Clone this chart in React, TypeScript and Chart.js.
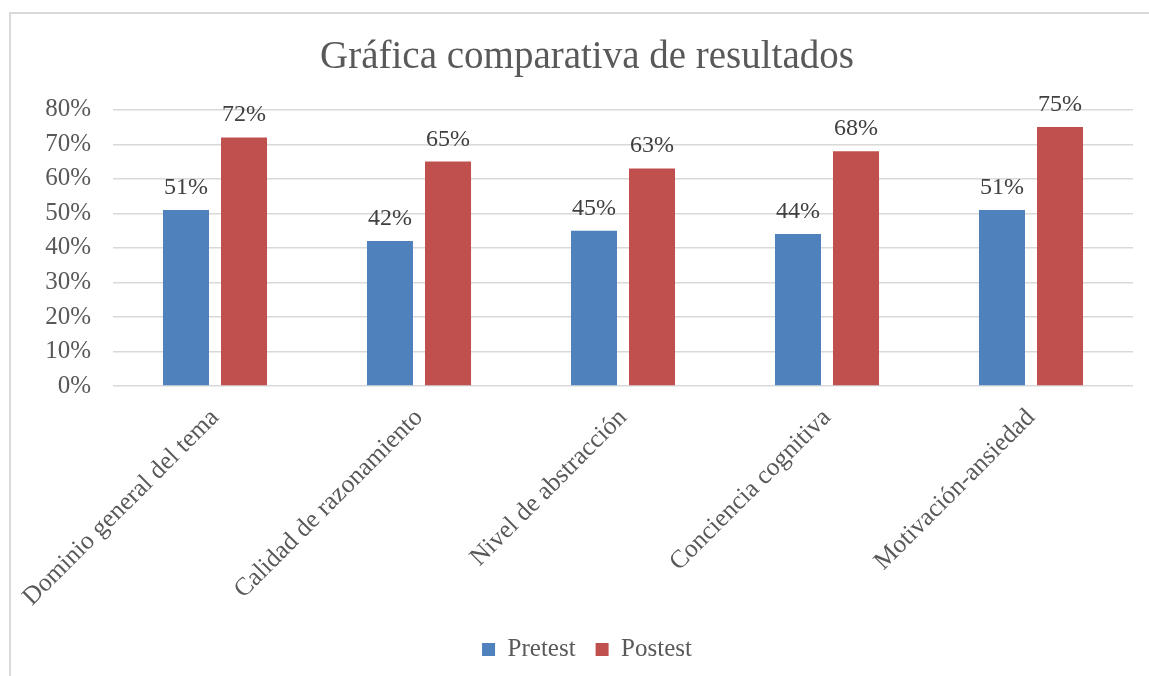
import { useEffect, useRef } from "react";
import { Chart, registerables } from "chart.js";

Chart.register(...registerables);

const categories = [
  "Dominio general del tema",
  "Calidad de razonamiento",
  "Nivel de abstracción",
  "Conciencia cognitiva",
  "Motivación-ansiedad",
];
const seriesNames = ["Pretest", "Postest"];
const pretest = [0.51, 0.42, 0.45, 0.44, 0.51];
const postest = [0.72, 0.65, 0.63, 0.68, 0.75];
const seriesColors = ["#4f81bd", "#c0504d"];
const chartTitle = "Gráfica comparativa de resultados";

const FONT = '"Liberation Serif", "Times New Roman", serif';
const TEXT = "#595959";

const dataLabels = {
  id: "dataLabels",
  afterDatasetsDraw(chart: any) {
    const ctx = chart.ctx;
    ctx.save();
    ctx.font = `24px ${FONT}`;
    ctx.fillStyle = "#404040";
    ctx.textAlign = "center";
    ctx.textBaseline = "alphabetic";
    chart.data.datasets.forEach((ds: any, i: number) => {
      chart.getDatasetMeta(i).data.forEach((bar: any, j: number) => {
        ctx.fillText(Math.round(ds.data[j] * 100) + "%", bar.x, bar.y - 16);
      });
    });
    ctx.restore();
  },
};

export default function App() {
  const ref = useRef<HTMLCanvasElement>(null);
  useEffect(() => {
    if (!ref.current) return;
    const chart = new Chart(ref.current, {
      type: "bar",
      data: {
        labels: categories,
        datasets: [
          {
            label: seriesNames[0],
            data: pretest,
            backgroundColor: seriesColors[0],
            categoryPercentage: 0.569,
            barPercentage: 0.793,
          },
          {
            label: seriesNames[1],
            data: postest,
            backgroundColor: seriesColors[1],
            categoryPercentage: 0.569,
            barPercentage: 0.793,
          },
        ],
      },
      options: {
        animation: false,
        responsive: false,
        maintainAspectRatio: false,
        layout: { padding: { top: 12, left: 41, right: 16, bottom: 4 } },
        plugins: {
          title: {
            display: true,
            text: chartTitle,
            color: TEXT,
            font: { family: FONT, size: 39, weight: "normal" },
            padding: { top: 22, bottom: 29 },
          },
          legend: {
            position: "bottom",
            labels: {
              color: TEXT,
              font: { family: FONT, size: 25 },
              boxWidth: 13,
              boxHeight: 13,
              padding: 20,
            },
          },
          tooltip: { enabled: false },
        },
        scales: {
          x: {
            grid: { display: false },
            border: { display: false },
            ticks: {
              color: TEXT,
              font: { family: FONT, size: 25.5 },
              maxRotation: 45,
              minRotation: 45,
              autoSkip: false,
              padding: 9,
            },
            afterFit(scale: any) {
              scale.height = 231;
            },
          },
          y: {
            min: 0,
            max: 0.8,
            border: { display: false },
            grid: { color: "#d9d9d9", lineWidth: 1.5, drawTicks: false },
            ticks: {
              stepSize: 0.1,
              color: TEXT,
              font: { family: FONT, size: 25 },
              padding: 22,
              callback: (v: any) => Math.round(Number(v) * 100) + "%",
            },
            afterFit(scale: any) {
              scale.width = 72;
            },
          },
        },
      },
      plugins: [dataLabels],
    });
    return () => chart.destroy();
  }, []);

  return (
    <div
      style={{
        position: "fixed",
        left: 0,
        top: 0,
        width: 1149,
        height: 676,
        overflow: "hidden",
        background: "#fff",
      }}
    >
      <canvas ref={ref} width={1149} height={676} style={{ position: "absolute", left: 0, top: 0 }} />
      <div
        style={{
          position: "absolute",
          left: 9,
          top: 12,
          width: 1200,
          height: 800,
          border: "2px solid #d9d9d9",
          pointerEvents: "none",
        }}
      />
    </div>
  );
}
